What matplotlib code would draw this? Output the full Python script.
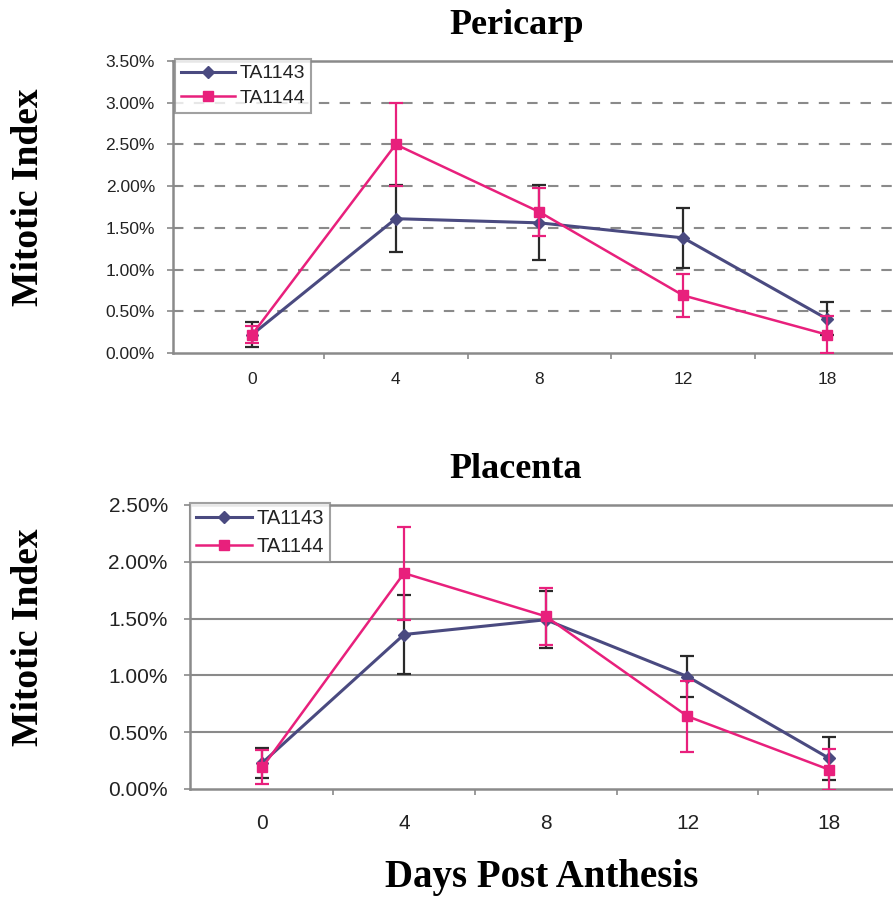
import matplotlib
matplotlib.use("Agg")
import matplotlib.pyplot as plt
from matplotlib.ticker import FuncFormatter
from matplotlib.lines import Line2D

days = ["0", "4", "8", "12", "18"]

# Pericarp (values in %)
peri_ta1143 = [0.22, 1.61, 1.56, 1.38, 0.41]
peri_ta1143_err = [0.15, 0.40, 0.45, 0.36, 0.20]
peri_ta1144 = [0.22, 2.50, 1.69, 0.69, 0.22]
peri_ta1144_err = [0.10, 0.50, 0.29, 0.26, 0.22]

# Placenta (values in %)
plac_ta1143 = [0.23, 1.36, 1.49, 0.99, 0.27]
plac_ta1143_err = [0.13, 0.35, 0.25, 0.18, 0.19]
plac_ta1144 = [0.19, 1.90, 1.52, 0.64, 0.17]
plac_ta1144_err = [0.15, 0.41, 0.25, 0.31, 0.18]

series_names = ["TA1143", "TA1144"]

C_NAVY = "#4a4a80"
C_PINK = "#e8207c"
C_ERR_NAVY = "#2a2a2a"
GRID = "#8a8a8a"
TXT = "#222222"

W, H = 893, 901
fig = plt.figure(figsize=(W / 100, H / 100), dpi=100)

def frac(x0, y0, x1, y1):
    return [x0 / W, 1 - y1 / H, (x1 - x0) / W, (y1 - y0) / H]

def draw(ax, a, ae, b, be, ymax, step, xlim, dashed, tick_fs, xtick_fs, xpad, ypad,
         leg_fs, leg_anchor, leg_space):
    x = list(range(len(days)))
    ax.errorbar(x, a, yerr=ae, color=C_NAVY, ecolor=C_ERR_NAVY, elinewidth=1.6,
                capsize=5, capthick=1.6, lw=2.2, marker="D", ms=6.5, zorder=3)
    ax.errorbar(x, b, yerr=be, color=C_PINK, ecolor=C_PINK, elinewidth=1.6,
                capsize=5, capthick=1.6, lw=1.8, marker="s", ms=6.5, zorder=4)
    ax.set_xlim(*xlim)
    ax.set_ylim(0, ymax)
    yt = [i * step for i in range(int(round(ymax / step)) + 1)]
    ax.set_yticks(yt)
    ax.yaxis.set_major_formatter(FuncFormatter(lambda v, p: f"{v:.2f}%"))
    ax.set_xticks(x)
    ax.set_xticklabels(days)
    ax.set_xticks([i + 0.5 for i in range(len(days) - 1)], minor=True)
    ax.tick_params(axis="x", which="major", length=0, pad=xpad, labelsize=xtick_fs, colors=TXT)
    ax.tick_params(axis="x", which="minor", length=4, width=1.2, color=GRID, direction="out")
    ax.tick_params(axis="y", length=4, width=1.2, color=GRID, pad=ypad, labelsize=tick_fs, labelcolor=TXT)
    for lab in ax.get_xticklabels() + ax.get_yticklabels():
        lab.set_family(["Liberation Sans", "DejaVu Sans"])
    ax.set_axisbelow(True)
    for v in yt[1:-1]:
        if dashed:
            ax.axhline(v, color=GRID, lw=1.5, ls=(0, (5, 5)), zorder=1)
        else:
            ax.axhline(v, color=GRID, lw=1.5, zorder=1)
    for s in ["left", "bottom", "top"]:
        ax.spines[s].set_color(GRID)
        ax.spines[s].set_linewidth(1.8)
    ax.spines["right"].set_visible(False)
    handles = [Line2D([], [], color=C_NAVY, lw=2.2, marker="D", ms=6.5),
               Line2D([], [], color=C_PINK, lw=1.8, marker="s", ms=6.5)]
    leg = ax.legend(handles, series_names, loc="upper left", bbox_to_anchor=leg_anchor,
                    bbox_transform=fig.transFigure,
                    frameon=True, fancybox=False, edgecolor=GRID, fontsize=leg_fs,
                    handlelength=2.8, handletextpad=0.2, borderpad=0.3,
                    labelspacing=leg_space, borderaxespad=0)
    leg.get_frame().set_linewidth(1.5)
    for t in leg.get_texts():
        t.set_family(["Liberation Sans", "DejaVu Sans"])
        t.set_color(TXT)

ax1 = fig.add_axes(frac(173, 61, 893, 353))
draw(ax1, peri_ta1143, peri_ta1143_err, peri_ta1144, peri_ta1144_err,
     3.5, 0.5, (-0.55, 4.46), True, 12.5, 12.5, 14, 9, 14, (175 / W, 1 - 59 / H), 0.35)

ax2 = fig.add_axes(frac(190, 505, 893, 789))
draw(ax2, plac_ta1143, plac_ta1143_err, plac_ta1144, plac_ta1144_err,
     2.5, 0.5, (-0.51, 4.45), False, 15, 15, 18, 12, 14.5, (190 / W, 1 - 503 / H), 0.45)

serif = ["Liberation Serif", "DejaVu Serif"]
fig.text(517 / W, 1 - 25 / H, "Pericarp", ha="center", va="center", fontsize=26,
         fontweight="bold", family=serif)
fig.text(516 / W, 1 - 470 / H, "Placenta", ha="center", va="center", fontsize=26,
         fontweight="bold", family=serif)
fig.text(29 / W, 1 - 197 / H, "Mitotic Index", ha="center", va="center", rotation=90,
         fontsize=27, fontweight="bold", family=serif)
fig.text(29 / W, 1 - 637 / H, "Mitotic Index", ha="center", va="center", rotation=90,
         fontsize=27, fontweight="bold", family=serif)
fig.text(542 / W, 1 - 878 / H, "Days Post Anthesis", ha="center", va="center",
         fontsize=28, fontweight="bold", family=serif)

fig.savefig("out.png", dpi=100)
